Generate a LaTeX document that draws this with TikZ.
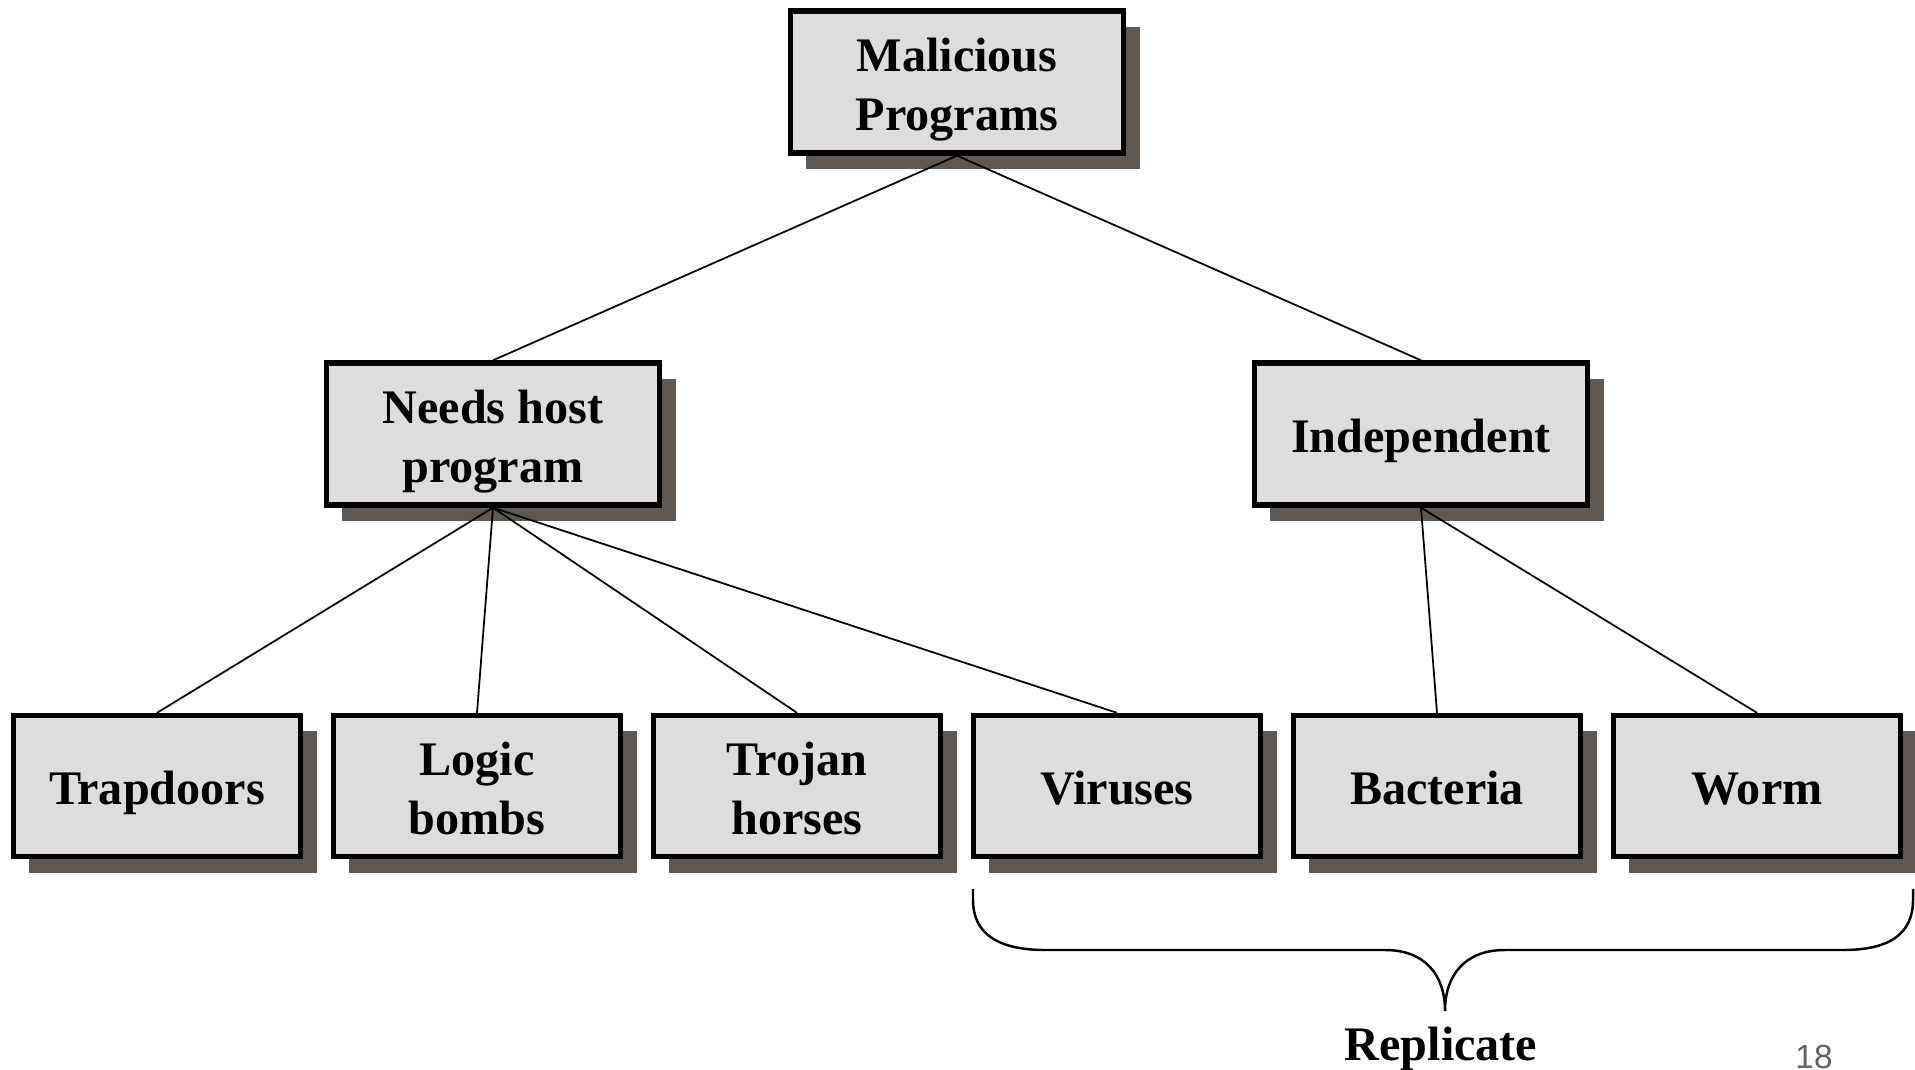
\documentclass[tikz,border=0pt]{standalone}
\usepackage{fontspec}
\setmainfont{Liberation Serif}
\newfontfamily\pagenumfont{Liberation Sans}
\usetikzlibrary{shadows}
\definecolor{boxfill}{RGB}{221,221,221}
\definecolor{shadowc}{RGB}{95,88,80}
\definecolor{pagegray}{RGB}{100,100,100}
\tikzset{
  box/.style={draw=black, line width=1.5pt, fill=boxfill, rectangle,
    inner sep=0pt, align=center,
    font=\fontsize{13.7}{16.7}\selectfont\bfseries,
    general shadow={fill=shadowc, shadow xshift=0.16cm, shadow yshift=-0.16cm}},
  % fixed text box so that the lines sit where a slide layout centres them
  oneline/.style={text height=12.8pt, text depth=2pt},
  twoline/.style={text height=29.5pt, text depth=2pt},
  widebox/.style={box, minimum width=3.33cm, minimum height=1.42cm},
  leafbox/.style={box, minimum width=2.87cm, minimum height=1.41cm},
  link/.style={draw=black, line width=0.5pt},
  bracepath/.style={draw=black, line width=0.7pt}
}
\begin{document}
\begin{tikzpicture}[x=0.01cm, y=-0.01cm]
  \fill[white] (0,0) rectangle (1915,1070);
  \useasboundingbox (0,0) rectangle (1915,1070);

  % tree nodes
  \node[widebox, twoline] (mal) at (957,82) {Malicious\\Programs};
  \node[widebox, twoline] (host) at (493,434) {Needs host\\program};
  \node[widebox, oneline] (ind) at (1421,434) {Independent};

  \node[leafbox, oneline] (trap) at (157,786) {Trapdoors};
  \node[leafbox, twoline] (logic) at (477,786) {Logic\\bombs};
  \node[leafbox, twoline] (trojan) at (797,786) {Trojan\\horses};
  \node[leafbox, oneline] (virus) at (1117,786) {Viruses};
  \node[leafbox, oneline] (bact) at (1437,786) {Bacteria};
  \node[leafbox, oneline] (worm) at (1757,786) {Worm};

  % connectors
  \path[link] (mal.south) -- (host.north);
  \path[link] (mal.south) -- (ind.north);
  \path[link] (host.south) -- (trap.north);
  \path[link] (host.south) -- (logic.north);
  \path[link] (host.south) -- (trojan.north);
  \path[link] (host.south) -- (virus.north);
  \path[link] (ind.south) -- (bact.north);
  \path[link] (ind.south) -- (worm.north);

  % brace under the self-replicating programs
  \coordinate (bl) at (973,889);
  \coordinate (br) at (1913,889);
  \coordinate (tip) at (1445,1011);
  \path[bracepath] (bl) -- (973,900)
    .. controls (973,935) and (1000,950) .. (1045,950)
    -- (1385,950)
    .. controls (1425,950) and (1445,975) .. (tip)
    .. controls (1445,975) and (1465,950) .. (1505,950)
    -- (1843,950)
    .. controls (1888,950) and (1913,935) .. (1913,900) -- (br);

  \node[font=\fontsize{13.7}{16.7}\selectfont\bfseries, anchor=base] (rep) at (1441,1060) {Replicate};
  \node[font=\pagenumfont\fontsize{9.5}{11}\selectfont, text=pagegray, anchor=base] (pg) at (1814,1068) {18};
\end{tikzpicture}
\end{document}
